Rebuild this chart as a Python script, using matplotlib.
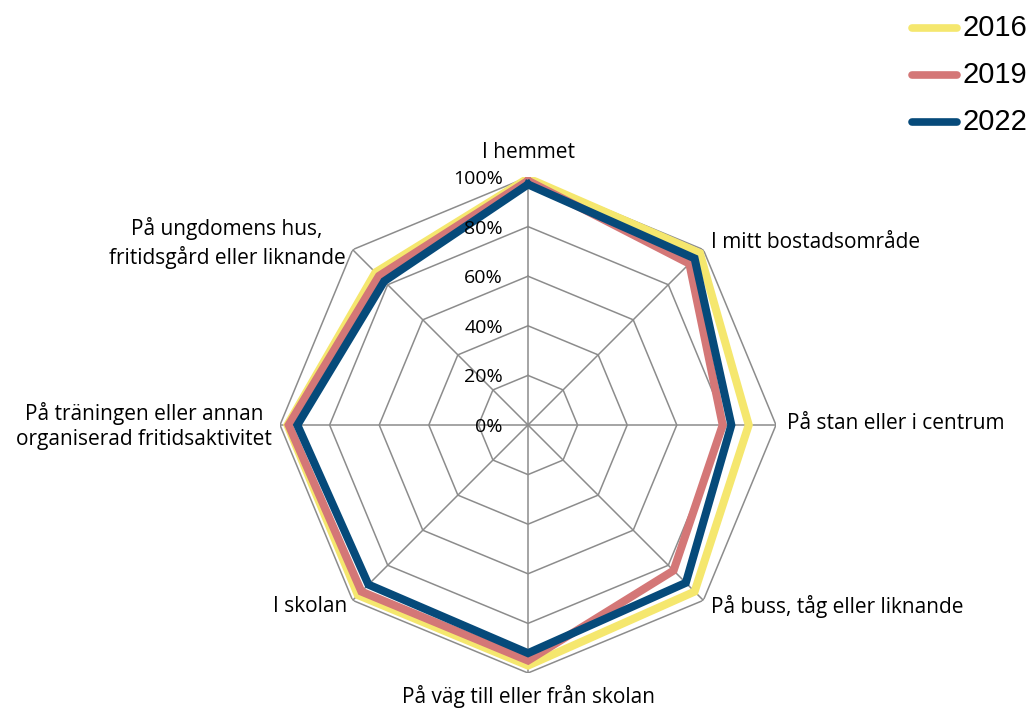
import numpy as np
import matplotlib
matplotlib.use("Agg")
import matplotlib.pyplot as plt
from matplotlib.lines import Line2D

categories = ["I hemmet", "I mitt bostadsområde", "På stan eller i centrum",
              "På buss, tåg eller liknande", "På väg till eller från skolan",
              "I skolan", "På träningen eller annan\norganiserad fritidsaktivitet",
              "På ungdomens hus,\nfritidsgård eller liknande"]
years = ["2016", "2019", "2022"]
v2016 = [99.5, 98, 89, 95, 97, 97, 97, 87]
v2019 = [98.5, 92, 78.5, 83, 95, 95, 96.5, 85]
v2022 = [97, 95, 82, 90, 92, 91, 93, 82]
tick_vals = [0, 20, 40, 60, 80, 100]
tick_labels = ["0%", "20%", "40%", "60%", "80%", "100%"]

colors = ["#F5E76E", "#D47777", "#064A7A"]
grid_color = "#8C8C8C"

W, H = 1031, 709
fig = plt.figure(figsize=(W / 100, H / 100), dpi=100)
cx, cy, R = 528, 425, 248
ax = fig.add_axes([(cx - R) / W, (H - cy - R) / H, 2 * R / W, 2 * R / H], projection="polar")
ax.set_theta_zero_location("N")
ax.set_theta_direction(-1)
ax.set_ylim(0, 100)
ax.grid(False)
ax.spines["polar"].set_visible(False)
ax.set_xticks([])
ax.set_yticks([])
ax.patch.set_alpha(0)

n = len(categories)
theta = np.arange(n) * 2 * np.pi / n
theta_c = np.append(theta, theta[0])

# polygon gridlines
for t in tick_vals[1:]:
    ax.plot(theta_c, [t] * (n + 1), color=grid_color, lw=1.1, zorder=1)
for th in theta:
    ax.plot([th, th], [0, 100], color=grid_color, lw=1.1, zorder=1)

series = [v2016, v2019, v2022]
for vals, col, yr in zip(series, colors, years):
    ax.plot(theta_c, vals + [vals[0]], color=col, lw=5.8, label=yr, zorder=3,
            solid_joinstyle="miter")

font = "Open Sans"
for t, lab in zip(tick_vals, tick_labels):
    fig.text((cx - 25) / W, 1 - (cy + 2 - t * R / 100) / H, lab, ha="right", va="center",
             fontsize=14, family=font)

# category labels
label_pos = [
    (528, 152, "center", "center"),
    (711, 242, "left", "center"),
    (787, 424, "left", "center"),
    (711, 607, "left", "center"),
    (528, 696, "center", "center"),
    (347, 607, "right", "center"),
    (144, 426, "center", "center"),
    (227, 243, "center", "center"),
]
for lab, (x, y, ha, va) in zip(categories, label_pos):
    fig.text(x / W, 1 - y / H, lab, ha=ha, va=va, fontsize=15, family=font,
             linespacing=1.3)

# legend
for i, (yr, col) in enumerate(zip(years, colors)):
    y = 1 - (28 + 47 * i) / H
    fig.add_artist(Line2D([912 / W, 957 / W], [y, y], color=col, lw=5.5,
                          solid_capstyle="round", transform=fig.transFigure))
    fig.text(962 / W, y, yr, ha="left", va="center", fontsize=21,
             family="Liberation Sans")

fig.savefig("out.png", dpi=100)
